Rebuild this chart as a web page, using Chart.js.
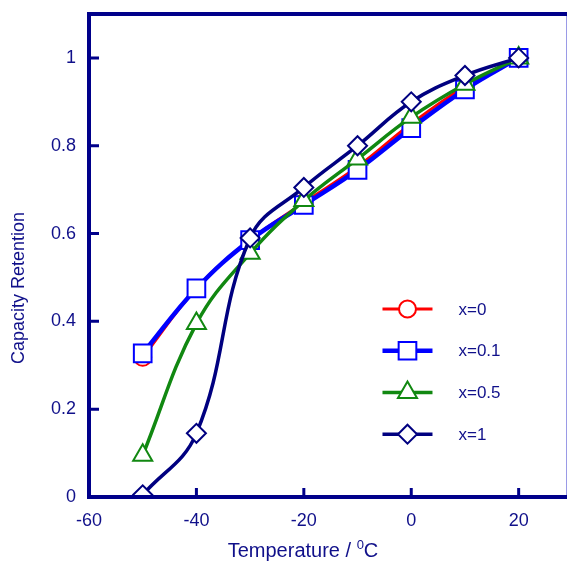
<!DOCTYPE html>
<html>
<head>
<meta charset="utf-8">
<script src="https://cdn.jsdelivr.net/npm/chart.js@4.4.0/dist/chart.umd.min.js"></script>
<style>
  html, body { margin: 0; padding: 0; background: #fff; }
  #wrap { width: 571px; height: 562px; position: relative; }
</style>
</head>
<body>
<div id="wrap"><canvas id="chart" width="571" height="562"></canvas></div>
<script>
// temperatures (deg C)
const temps = [-50, -40, -30, -20, -10, 0, 10, 20];
// capacity retention
const x0   = [0.318, 0.475, 0.585, 0.670, 0.752, 0.850, 0.935, 1.000];
const x01  = [0.327, 0.475, 0.585, 0.665, 0.745, 0.840, 0.928, 1.000];
const x05  = [0.095, 0.395, 0.555, 0.675, 0.770, 0.865, 0.940, 1.000];
const x1   = [0.005, 0.145, 0.590, 0.705, 0.800, 0.900, 0.960, 1.000];
const seriesLabels = ['x=0', 'x=0.1', 'x=0.5', 'x=1'];
const xTicks = [-60, -40, -20, 0, 20];
const yTicks = [0, 0.2, 0.4, 0.6, 0.8, 1];

const NAVY = '#10108a';
const FONT = 'Liberation Sans, Arial, Helvetica, sans-serif';

function pts(arr) {
    return temps.map((t, i) => ({ x: t, y: arr[i] }));
}

function ds(label, arr, color, style, radius, lw, order) {
    return {
        label: label,
        data: pts(arr),
        borderColor: color,
        backgroundColor: '#fff',
        borderWidth: lw,
        pointStyle: style,
        pointRadius: radius,
        pointBorderWidth: 2,
        pointBackgroundColor: '#fff',
        pointBorderColor: color,
        tension: 0.4,
        order: order
    };
}

const datasets = [
    ds(seriesLabels[0], x0, '#ff0000', 'circle', 8.5, 3, 4),
    ds(seriesLabels[1], x01, '#0000ff', 'rect', 12.5, 4.5, 3),
    ds(seriesLabels[2], x05, '#118811', 'triangle', 11, 3.5, 2),
    ds(seriesLabels[3], x1, '#000080', 'rectRot', 9.5, 3.5, 1)
];

// axes frame, inward ticks, legend and titles
const decor = {
    id: 'decor',
    afterDatasetsDraw(chart) {
        const ctx = chart.ctx;
        const a = chart.chartArea;
        const xs = chart.scales.x, ys = chart.scales.y;
        ctx.save();
        // right border (thin)
        ctx.strokeStyle = '#9a9ae6';
        ctx.lineWidth = 1;
        ctx.beginPath();
        ctx.moveTo(a.right - 0.5, a.top);
        ctx.lineTo(a.right - 0.5, a.bottom);
        ctx.stroke();
        // thick left, bottom, top
        ctx.strokeStyle = '#00008a';
        ctx.lineWidth = 4;
        ctx.beginPath();
        ctx.moveTo(a.left, a.top);
        ctx.lineTo(a.left, a.bottom);
        ctx.lineTo(a.right, a.bottom);
        ctx.moveTo(a.left - 2, a.top);
        ctx.lineTo(a.right, a.top);
        ctx.stroke();
        // inward ticks
        ctx.lineWidth = 3;
        ctx.beginPath();
        yTicks.forEach(v => {
            const y = ys.getPixelForValue(v);
            ctx.moveTo(a.left, y);
            ctx.lineTo(a.left + 10, y);
        });
        xTicks.forEach(v => {
            const x = xs.getPixelForValue(v);
            ctx.moveTo(x, a.bottom);
            ctx.lineTo(x, a.bottom - 9);
        });
        ctx.stroke();

        // legend
        const lx = xs.getPixelForValue(-0.7);
        chart.data.datasets.forEach((d, i) => {
            const y = ys.getPixelForValue(0.428 - i * 0.095);
            ctx.strokeStyle = d.borderColor;
            ctx.lineWidth = d.borderWidth;
            ctx.beginPath();
            ctx.moveTo(lx - 25, y);
            ctx.lineTo(lx + 25, y);
            ctx.stroke();
            ctx.fillStyle = '#fff';
            ctx.lineWidth = 2;
            Chart.helpers.drawPoint(ctx, {
                pointStyle: d.pointStyle, radius: d.pointRadius, borderWidth: 2
            }, lx, y);
            ctx.fillStyle = NAVY;
            ctx.font = '17px ' + FONT;
            ctx.textAlign = 'left';
            ctx.textBaseline = 'middle';
            ctx.fillText(d.label, lx + 51, y + 1);
        });

        // y title
        ctx.fillStyle = NAVY;
        ctx.font = '18px ' + FONT;
        ctx.translate(24, 288);
        ctx.rotate(-Math.PI / 2);
        ctx.textAlign = 'center';
        ctx.textBaseline = 'alphabetic';
        ctx.fillText('Capacity Retention', 0, 0);
        ctx.restore();

        // x title with superscript 0
        ctx.save();
        ctx.fillStyle = NAVY;
        ctx.textBaseline = 'alphabetic';
        ctx.textAlign = 'left';
        const big = '20px ' + FONT, small = '13px ' + FONT;
        const t1 = 'Temperature / ', t2 = '0', t3 = 'C';
        ctx.font = big;
        const w1 = ctx.measureText(t1).width, w3 = ctx.measureText(t3).width;
        ctx.font = small;
        const w2 = ctx.measureText(t2).width;
        let x = 303 - (w1 + w2 + w3) / 2;
        const base = 557;
        ctx.font = big;
        ctx.fillText(t1, x, base);
        x += w1;
        ctx.font = small;
        ctx.fillText(t2, x, base - 8);
        x += w2;
        ctx.font = big;
        ctx.fillText(t3, x, base);
        ctx.restore();
    }
};

const ctx = document.getElementById('chart').getContext('2d');
const myChart = new Chart(ctx, {
    type: 'line',
    data: { datasets: datasets },
    options: {
        responsive: false,
        animation: false,
        layout: { autoPadding: false, padding: { top: 14, right: 4, left: 0, bottom: 0 } },
        plugins: {
            legend: { display: false },
            tooltip: { enabled: false }
        },
        scales: {
            x: {
                type: 'linear',
                min: -60,
                max: 29,
                grid: { display: false, drawTicks: false },
                border: { display: false },
                afterBuildTicks: s => { s.ticks = xTicks.map(v => ({ value: v })); },
                afterFit: s => { s.height = 65; s.paddingLeft = 0; s.paddingRight = 0; },
                ticks: {
                    padding: 13,
                    color: NAVY,
                    font: { family: FONT, size: 18 },
                    callback: v => String(v)
                }
            },
            y: {
                type: 'linear',
                min: 0,
                max: 1.1,
                grid: { display: false, drawTicks: false },
                border: { display: false },
                afterBuildTicks: s => { s.ticks = yTicks.map(v => ({ value: v })); },
                afterFit: s => { s.width = 89; s.paddingTop = 0; s.paddingBottom = 0; },
                ticks: {
                    padding: 13,
                    color: NAVY,
                    font: { family: FONT, size: 18 },
                    callback: v => String(+v.toFixed(1))
                }
            }
        }
    },
    plugins: [decor]
});
</script>
</body>
</html>
